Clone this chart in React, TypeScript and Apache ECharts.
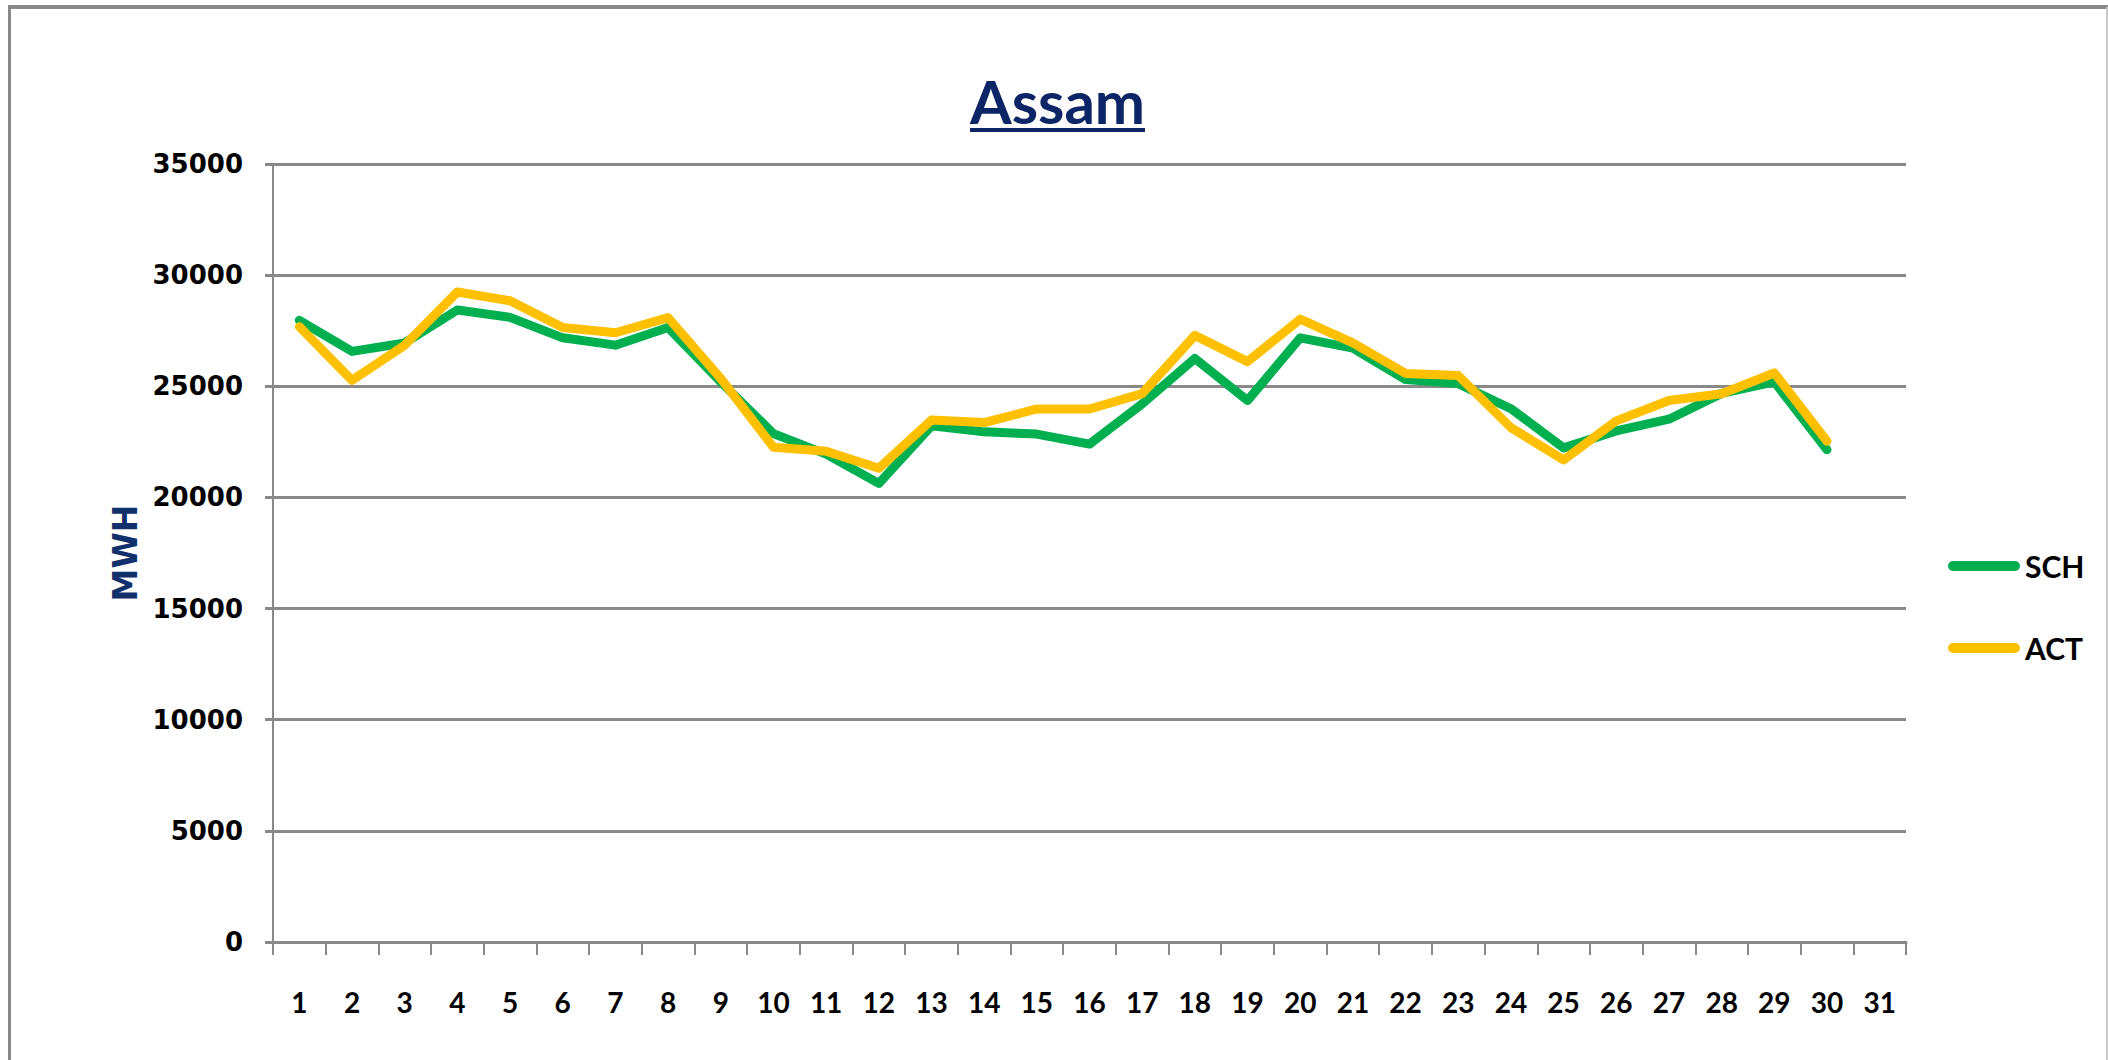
import React, { useEffect, useRef } from "react";
import * as echarts from "echarts";

const days = Array.from({ length: 31 }, (_, i) => String(i + 1));
const schValues = [
  27970, 26570, 26950, 28430, 28100, 27180, 26850, 27640, 25200, 22870,
  21950, 20630, 23220, 22950, 22850, 22400, 24210, 26250, 24360, 27180,
  26720, 25300, 25120, 23990, 22230, 22990, 23520, 24680, 25200, 22150,
];
const actValues = [
  27680, 25270, 26850, 29240, 28850, 27640, 27410, 28090, 25350, 22260,
  22080, 21310, 23480, 23370, 23980, 23980, 24670, 27290, 26110, 28020,
  26950, 25580, 25480, 23140, 21690, 23445, 24360, 24665, 25600, 22530,
];
const seriesNames = ["SCH", "ACT"];
const seriesColors = ["#00B050", "#FFC000"];
const yTicks = [0, 5000, 10000, 15000, 20000, 25000, 30000, 35000];

const narrowFont = "Lato, 'Liberation Sans', sans-serif";
const titleFontSize = 60;

function measure(text: string, font: string): number {
  const c = document.createElement("canvas").getContext("2d");
  if (!c) return text.length * 30;
  c.font = font;
  return c.measureText(text).width;
}

export default function App() {
  const ref = useRef<HTMLDivElement>(null);
  useEffect(() => {
    document.body.style.margin = "0";
    if (!ref.current) return;
    const chart = echarts.init(ref.current, undefined, { renderer: "svg" });
    const gray = "#898989";
    const titleText = "Assam";
    const tw = measure(titleText, `bold ${titleFontSize}px Lato`);
    const titleCenter = 1058;
    chart.setOption({
      animation: false,
      backgroundColor: "#ffffff",
      title: {
        text: titleText,
        left: Math.round(titleCenter - tw / 2),
        top: 71,
        padding: 0,
        textStyle: {
          fontFamily: narrowFont,
          fontWeight: "bold",
          fontSize: titleFontSize,
          color: "#0B2566",
          lineHeight: titleFontSize,
        },
      },
      graphic: [
        {
          type: "rect",
          shape: { x: Math.round(titleCenter - tw / 2), y: 128, width: Math.round(tw), height: 4 },
          style: { fill: "#0B2566" },
        },
        { type: "line", shape: { x1: 9.5, y1: 7, x2: 9.5, y2: 1060 }, style: { stroke: gray, lineWidth: 3 } },
        { type: "line", shape: { x1: 8, y1: 7, x2: 2108, y2: 7 }, style: { stroke: gray, lineWidth: 4 } },
        { type: "line", shape: { x1: 2107, y1: 7, x2: 2107, y2: 1060 }, style: { stroke: "#c8c8c8", lineWidth: 2 } },
      ],
      legend: {
        orient: "vertical",
        left: 1943,
        top: 545,
        itemWidth: 72,
        itemHeight: 10,
        itemGap: 50,
        icon: "path://M5,0L67,0A5,5,0,0,1,67,10L5,10A5,5,0,0,1,5,0Z",
        textStyle: {
          fontFamily: narrowFont,
          fontWeight: "bold",
          fontSize: 30,
          color: "#000000",
          lineHeight: 32,
        },
        data: seriesNames,
      },
      grid: { left: 273, right: 202, top: 164, bottom: 118, containLabel: false },
      xAxis: {
        type: "category",
        data: days,
        boundaryGap: true,
        axisLine: { show: true, lineStyle: { color: gray, width: 3 } },
        axisTick: { show: true, interval: 0, length: 13, lineStyle: { color: gray, width: 2 } },
        axisLabel: {
          interval: 0,
          margin: 46,
          fontFamily: narrowFont,
          fontWeight: "bold",
          fontSize: 28,
          color: "#000000",
        },
        splitLine: { show: false },
      },
      yAxis: {
        type: "value",
        min: yTicks[0],
        max: yTicks[yTicks.length - 1],
        interval: 5000,
        name: "MWH",
        nameLocation: "middle",
        nameGap: 124,
        nameRotate: 90,
        nameTextStyle: {
          fontFamily: "DejaVu Sans",
          fontWeight: "bold",
          fontSize: 33,
          color: "#12306B",
        },
        axisLine: { show: true, lineStyle: { color: gray, width: 2 } },
        axisTick: { show: true, length: 8, lineStyle: { color: gray, width: 3 } },
        axisLabel: {
          margin: 30,
          fontFamily: "DejaVu Sans",
          fontWeight: "bold",
          fontSize: 26,
          color: "#000000",
          formatter: (v: number) => String(v),
        },
        splitLine: { show: true, lineStyle: { color: gray, width: 3 } },
      },
      series: [
        {
          name: seriesNames[0],
          type: "line",
          data: schValues,
          symbol: "none",
          lineStyle: { color: seriesColors[0], width: 9, join: "round", cap: "round" },
          itemStyle: { color: seriesColors[0] },
          z: 2,
        },
        {
          name: seriesNames[1],
          type: "line",
          data: actValues,
          symbol: "none",
          lineStyle: { color: seriesColors[1], width: 9, join: "round", cap: "round" },
          itemStyle: { color: seriesColors[1] },
          z: 3,
        },
      ],
    });
    return () => chart.dispose();
  }, []);
  return <div ref={ref} style={{ width: 2108, height: 1060 }} />;
}
